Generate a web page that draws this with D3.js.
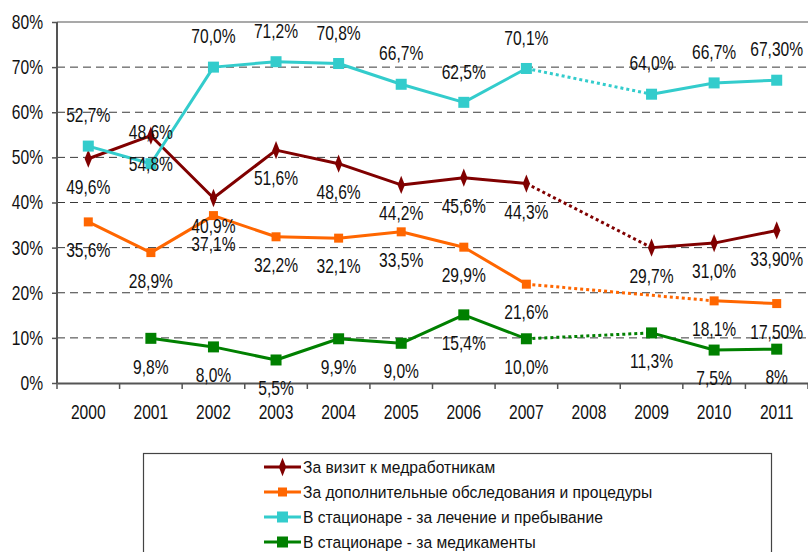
<!DOCTYPE html>
<html>
<head>
<meta charset="utf-8">
<script src="https://cdn.jsdelivr.net/npm/d3@7/dist/d3.min.js"></script>
<style>
  html, body { margin: 0; padding: 0; background: #ffffff; }
  svg { display: block; }
  text { font-family: "Liberation Sans Narrow", "Arial Narrow", "Liberation Sans", Arial, sans-serif; fill: #111; }
</style>
</head>
<body>
<svg id="chart" width="808" height="552"></svg>
<script>
// ---- data ----
const years = ["2000","2001","2002","2003","2004","2005","2006","2007","2008","2009","2010","2011"];
const yTicks = [0, 10, 20, 30, 40, 50, 60, 70, 80];

const seriesNames = [
  "За визит к медработникам",
  "За дополнительные обследования и процедуры",
  "В стационаре - за лечение и пребывание",
  "В стационаре - за медикаменты"
];

// plotted values (percent), null = no data
const visitValues     = [49.7, 54.8, 41.0, 51.6, 48.6, 43.9, 45.5, 44.2, null, 30.0, 31.0, 33.8];
const examValues      = [35.7, 28.9, 37.1, 32.4, 32.1, 33.5, 30.1, 21.9, null, null, 18.2, 17.6];
const hospitalValues  = [52.5, 48.6, 70.0, 71.2, 70.8, 66.2, 62.2, 69.7, null, 64.0, 66.5, 67.1];
const medicineValues  = [null, 9.9, 8.0, 5.1, 9.8, 8.8, 15.1, 9.8, null, 11.1, 7.3, 7.5];

// data labels as printed on the chart
const visitLabels    = ["49,6%", "48,6%", "40,9%", "51,6%", "48,6%", "44,2%", "45,6%", "44,3%", null, "29,7%", "31,0%", "33,90%"];
const examLabels     = ["35,6%", "28,9%", "37,1%", "32,2%", "32,1%", "33,5%", "29,9%", "21,6%", null, null, "18,1%", "17,50%"];
const hospitalLabels = ["52,7%", "54,8%", "70,0%", "71,2%", "70,8%", "66,7%", "62,5%", "70,1%", null, "64,0%", "66,7%", "67,30%"];
const medicineLabels = [null, "9,8%", "8,0%", "5,5%", "9,9%", "9,0%", "15,4%", "10,0%", null, "11,3%", "7,5%", "8%"];

// ---- layout / style (not data) ----
const styles = [
  { color: "#800000", marker: "diamond", size: 9, labelDy: 28, labelDyAt: { 1: -4 } },
  { color: "#ff6600", marker: "square",  size: 9, labelDy: 28, labelDyAt: {} },
  { color: "#33cccc", marker: "square",  size: 11, labelDy: -31, labelDyAt: { 1: 0 } },
  { color: "#008000", marker: "square",  size: 11, labelDy: 28, labelDyAt: {} }
];
const allValues = [visitValues, examValues, hospitalValues, medicineValues];
const allLabels = [visitLabels, examLabels, hospitalLabels, medicineLabels];

const plot = { left: 57, right: 808, top: 22, bottom: 383 };
const chartTextScale = 0.78;
const legendTextScale = 0.92;

const svg = d3.select("#chart");

const x = d3.scaleBand().domain(years).range([plot.left, plot.right]).padding(0);
const y = d3.scaleLinear().domain([0, 80]).range([plot.bottom, plot.top]);
const cx = d => x(d) + x.bandwidth() / 2;

// condense text horizontally about its anchor x
function condense(sel, s) {
  sel.each(function () {
    const ex = +(this.getAttribute("x") || 0);
    this.setAttribute("transform", `translate(${ex},0) scale(${s},1) translate(${-ex},0)`);
  });
}

// gridlines
svg.append("g").selectAll("line")
  .data(yTicks.filter(t => t > 0))
  .join("line")
  .attr("x1", plot.left).attr("x2", plot.right)
  .attr("y1", d => y(d)).attr("y2", d => y(d))
  .attr("stroke", d => d === 80 ? "#8c8c8c" : "#3a3a3a")
  .attr("stroke-width", d => d === 80 ? 1.5 : 1)
  .attr("stroke-dasharray", d => d === 80 ? null : "8,5");

// y axis
const yAxis = svg.append("g")
  .attr("transform", `translate(${plot.left},0)`)
  .call(d3.axisLeft(y).tickValues(yTicks).tickFormat(d => d + "%").tickSize(5).tickPadding(9));
yAxis.attr("font-family", null).attr("font-size", null);
yAxis.select(".domain").attr("stroke", "#555").attr("stroke-width", 2).attr("fill", "none")
  .attr("d", `M0,${plot.top}V${plot.bottom}`);
yAxis.selectAll(".tick line").attr("stroke", "#555").attr("stroke-width", 1.5);
yAxis.selectAll(".tick text").style("font-size", "20px").attr("fill", "#111")
  .call(condense, chartTextScale);

// x axis
const xAxis = svg.append("g")
  .attr("transform", `translate(0,${plot.bottom})`)
  .call(d3.axisBottom(x).tickSize(0).tickPadding(22));
xAxis.attr("font-family", null).attr("font-size", null);
xAxis.select(".domain").attr("stroke", "#555").attr("stroke-width", 2).attr("fill", "none");
xAxis.selectAll(".tick text").style("font-size", "20px").attr("fill", "#111")
  .call(condense, chartTextScale);
// boundary ticks
svg.append("g").selectAll("line")
  .data(years.map(d => x(d)).concat([plot.right]))
  .join("line")
  .attr("x1", d => d).attr("x2", d => d)
  .attr("y1", plot.bottom).attr("y2", plot.bottom + 6)
  .attr("stroke", "#555").attr("stroke-width", 1.5);

// series
const diamond = d3.symbol().type(d3.symbolDiamond);
allValues.forEach((vals, si) => {
  const st = styles[si];
  const pts = vals.map((v, i) => ({ v, i, year: years[i] })).filter(p => p.v !== null);
  const g = svg.append("g");
  for (let k = 0; k < pts.length - 1; k++) {
    const a = pts[k], b = pts[k + 1];
    const gap = b.i - a.i > 1;
    g.append("line")
      .attr("x1", cx(a.year)).attr("y1", y(a.v))
      .attr("x2", cx(b.year)).attr("y2", y(b.v))
      .attr("stroke", st.color)
      .attr("stroke-width", 3)
      .attr("stroke-dasharray", gap ? "3,3" : null)
      .attr("stroke-linecap", gap ? "butt" : "round");
  }
  if (st.marker === "diamond") {
    g.selectAll("path.m").data(pts).join("path")
      .attr("class", "m")
      .attr("d", diamond.size(st.size * st.size * 0.9))
      .attr("transform", p => `translate(${cx(p.year)},${y(p.v)}) scale(0.8,1.15)`)
      .attr("fill", st.color);
  } else {
    g.selectAll("rect.m").data(pts).join("rect")
      .attr("class", "m")
      .attr("x", p => cx(p.year) - st.size / 2)
      .attr("y", p => y(p.v) - st.size / 2)
      .attr("width", st.size).attr("height", st.size)
      .attr("fill", st.color);
  }
});

// data labels (drawn after all lines)
allValues.forEach((vals, si) => {
  const st = styles[si];
  const labels = allLabels[si];
  const pts = vals.map((v, i) => ({ v, i, year: years[i], label: labels[i] })).filter(p => p.v !== null && p.label);
  svg.append("g").selectAll("text").data(pts).join("text")
    .attr("x", p => cx(p.year))
    .attr("y", p => y(p.v) + (st.labelDyAt[p.i] !== undefined ? st.labelDyAt[p.i] : st.labelDy))
    .attr("dy", "0.36em")
    .attr("text-anchor", "middle")
    .style("font-size", "20px")
    .text(p => p.label)
    .call(condense, chartTextScale);
});

// legend
const legend = { x: 143, y: 453, w: 628, h: 110, rowY: 467, rowStep: 25, lineX1: 264, lineX2: 301, textX: 303 };
svg.append("rect")
  .attr("x", legend.x + 0.5).attr("y", legend.y + 0.5)
  .attr("width", legend.w).attr("height", legend.h)
  .attr("fill", "none").attr("stroke", "#444").attr("stroke-width", 1.2);
seriesNames.forEach((name, si) => {
  const st = styles[si];
  const ry = legend.rowY + si * legend.rowStep;
  const lg = svg.append("g");
  lg.append("line")
    .attr("x1", legend.lineX1).attr("x2", legend.lineX2)
    .attr("y1", ry).attr("y2", ry)
    .attr("stroke", st.color).attr("stroke-width", 3);
  const mx = (legend.lineX1 + legend.lineX2) / 2;
  if (st.marker === "diamond") {
    lg.append("path").attr("d", diamond.size(st.size * st.size * 0.9))
      .attr("transform", `translate(${mx},${ry}) scale(0.8,1.15)`).attr("fill", st.color);
  } else {
    lg.append("rect").attr("x", mx - st.size / 2).attr("y", ry - st.size / 2)
      .attr("width", st.size).attr("height", st.size).attr("fill", st.color);
  }
  lg.append("text")
    .attr("x", legend.textX).attr("y", ry).attr("dy", "0.36em")
    .style("font-size", "17px")
    .text(name)
    .call(condense, legendTextScale);
});
</script>
</body>
</html>
